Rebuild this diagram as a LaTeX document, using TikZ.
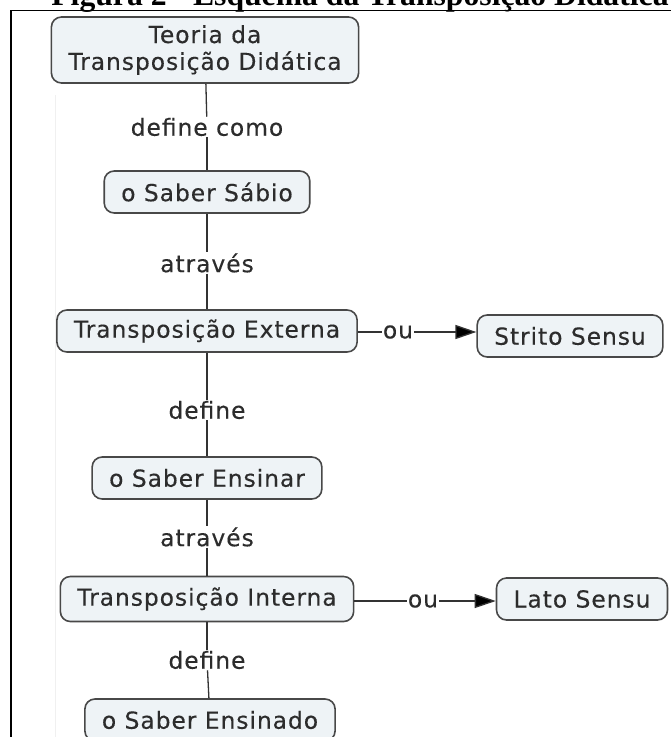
\documentclass[tikz,border=0pt]{standalone}
\usepackage{fontspec}
\setmainfont{Liberation Serif}
\newfontfamily\cmapfont[LetterSpace=4, FakeBold=0.3]{DejaVu Sans}
\usetikzlibrary{arrows.meta}

\definecolor{conceptfill}{HTML}{EEF3F6}
\definecolor{conceptline}{HTML}{484848}
\definecolor{cmaptext}{HTML}{2C2C2C}
\definecolor{linkline}{HTML}{333333}

\begin{document}
\begin{tikzpicture}[x=1bp, y=-1bp,
    concept/.style={draw=conceptline, fill=conceptfill, rounded corners=10bp,
      line width=1.6bp, inner xsep=17bp, inner ysep=2bp, minimum height=42bp,
      text=cmaptext, align=center, font=\cmapfont\fontsize{23.5}{27}\selectfont},
    phrase/.style={inner sep=1bp, text=cmaptext,
      font=\cmapfont\fontsize{23.5}{27}\selectfont},
    link/.style={draw=linkline, line width=1.3bp},
    arrowlink/.style={link, -{Triangle[length=21bp, width=14bp, fill=black]}}]
  \useasboundingbox (0,0) rectangle (671,737);

  % title, cut at the top, and the frame
  \node[anchor=base, font=\bfseries\fontsize{31.8}{36}\selectfont] (title)
    at (360,6) {Figura 2 - Esquema da Transposição Didática};
  \draw[line width=1.6bp] (11,737) -- (11,10.5) -- (671,10.5);
  \draw[gray!12] (55,95) -- (55,737);

  % concepts
  \node[concept, minimum height=66bp] (teoria) at (205,50)
    {Teoria da\\Transposição Didática};
  \node[concept] (sabersabio) at (207,192) {o Saber Sábio};
  \node[concept] (externa) at (207,331) {Transposição Externa};
  \node[concept] (strito) at (570,336) {Strito Sensu};
  \node[concept] (saberensinar) at (207,478) {o Saber Ensinar};
  \node[concept, minimum height=45bp] (interna) at (207,599) {Transposição Interna};
  \node[concept] (lato) at (582,599) {Lato Sensu};
  \node[concept] (saberensinado) at (210,720) {o Saber Ensinado};

  % linking phrases
  \node[phrase] (definecomo) at (207,127) {define como};
  \node[phrase] (atraves1) at (207,263) {através};
  \node[phrase] (define1) at (207,410) {define};
  \node[phrase] (atraves2) at (207,537) {através};
  \node[phrase] (define2) at (207,660) {define};
  \node[phrase] (ou1) at (398,332) {ou};
  \node[phrase] (ou2) at (423,601) {ou};

  \foreach \a/\b in {teoria/definecomo, definecomo/sabersabio,
      sabersabio/atraves1, atraves1/externa, externa/define1,
      define1/saberensinar, saberensinar/atraves2, atraves2/interna,
      interna/define2, define2/saberensinado} {
    \draw[link] (\a) -- (\b);
  };
  \draw[link] (externa.east |- ou1) -- (ou1);
  \draw[arrowlink] (ou1) -- (strito.west |- ou1);
  \draw[link] (interna.east |- ou2) -- (ou2);
  \draw[arrowlink] (ou2) -- (lato.west |- ou2);
\end{tikzpicture}
\end{document}
